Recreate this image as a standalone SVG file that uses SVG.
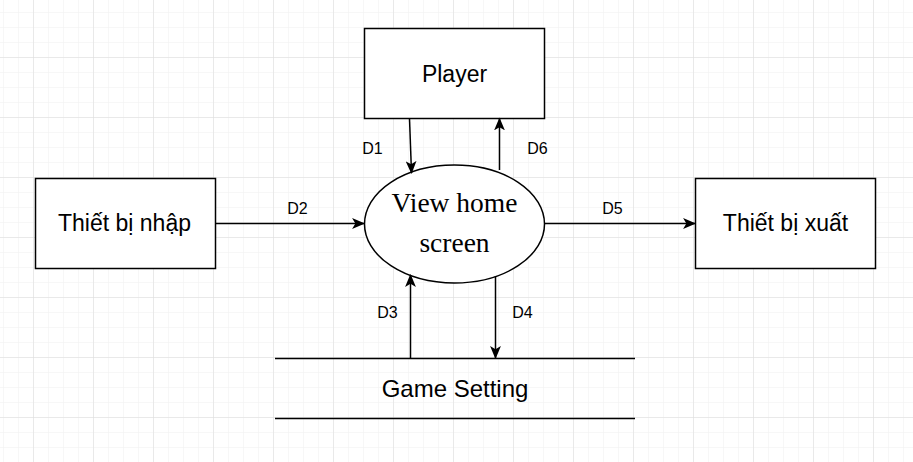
<svg xmlns="http://www.w3.org/2000/svg" width="913" height="462" viewBox="0 0 913 462">
<defs>
<pattern id="minor" x="3" y="12" width="15" height="15" patternUnits="userSpaceOnUse">
<path d="M0 0H15M0 0V15" fill="none" stroke="#f0f0f0" stroke-width="1"/>
</pattern>
<pattern id="major" x="33" y="57" width="60" height="60" patternUnits="userSpaceOnUse">
<path d="M0 0H60M0 0V60" fill="none" stroke="#dcdcdc" stroke-width="1"/>
</pattern>
<marker id="arr" viewBox="0 0 12 10" refX="11" refY="5" markerWidth="13" markerHeight="11" markerUnits="userSpaceOnUse" orient="auto">
<path d="M0 0L12 5L0 10L3 5Z" fill="#000"/>
</marker>
</defs>
<style>
.box{fill:#fff;stroke:#000;stroke-width:1.5}
.t{font-family:"Liberation Sans",Arial,sans-serif;font-size:23px;fill:#000;text-anchor:middle}
.s{font-family:"Liberation Serif","Times New Roman",serif;font-size:27.5px;fill:#000;text-anchor:middle}
.lbl{font-family:"Liberation Sans",Arial,sans-serif;font-size:16px;fill:#000;text-anchor:middle}
.c{fill:none;stroke:#000;stroke-width:1.5;marker-end:url(#arr)}
</style>
<rect width="913" height="462" fill="#fff"/>
<rect width="913" height="462" fill="url(#minor)"/>
<rect width="913" height="462" fill="url(#major)"/>
<g id="player"><rect class="box" x="364.5" y="28.5" width="180" height="90"/><text class="t" x="454.5" y="82">Player</text></g>
<g id="input"><rect class="box" x="35.5" y="178.5" width="180" height="90"/><text class="t" x="124.5" y="231">Thiết bị nhập</text></g>
<g id="output"><rect class="box" x="695.5" y="178.5" width="180" height="90"/><text class="t" x="785.5" y="231">Thiết bị xuất</text></g>
<g id="process"><ellipse class="box" cx="454.5" cy="224" rx="90" ry="59"/><text class="s" x="454.5" y="212">View home</text><text class="s" x="454.5" y="252">screen</text></g>
<g id="store"><path d="M275 358.5H635M275 418.5H635" stroke="#000" stroke-width="1.5" fill="none"/><text class="t" x="455" y="397" style="font-size:24px">Game Setting</text></g>
<g id="connectors">
<path class="c" d="M409.5 118.5L411.5 173"/>
<path class="c" d="M499.5 170V118.5"/>
<path class="c" d="M215.5 223.5H364"/>
<path class="c" d="M545 223.5H695"/>
<path class="c" d="M410.5 358V275"/>
<path class="c" d="M495.5 276V358"/>
<text class="lbl" x="372.5" y="154">D1</text>
<text class="lbl" x="537.5" y="154">D6</text>
<text class="lbl" x="297.5" y="214">D2</text>
<text class="lbl" x="612.5" y="214">D5</text>
<text class="lbl" x="387.5" y="318">D3</text>
<text class="lbl" x="522.5" y="318">D4</text>
</g>
</svg>
